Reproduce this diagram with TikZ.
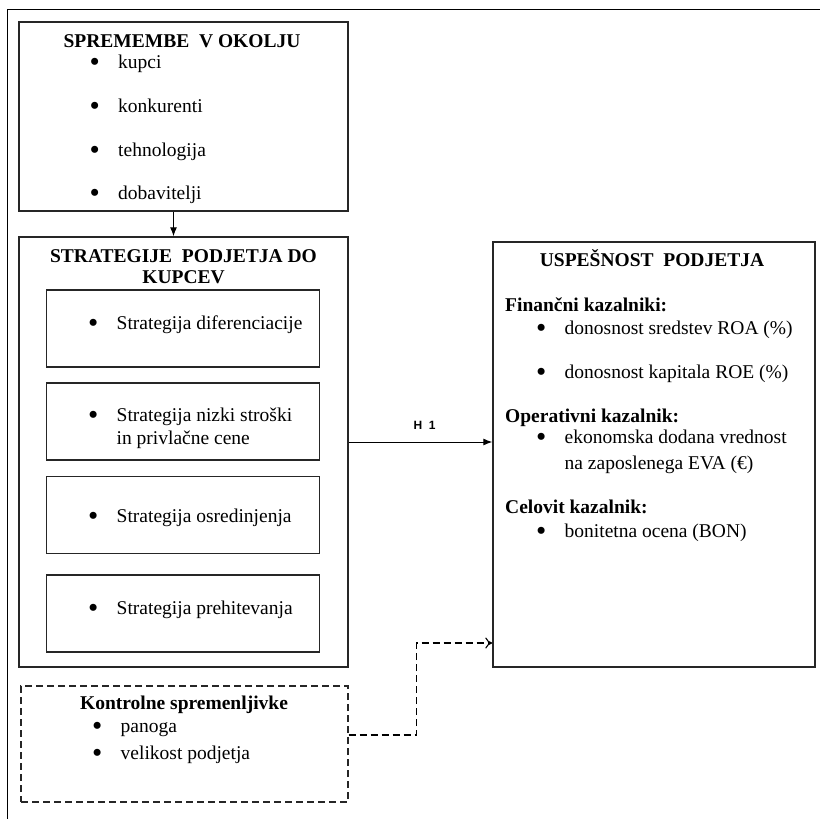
\documentclass[tikz,border=0pt]{standalone}
\usepackage{fontspec}
\setmainfont{Liberation Serif}
\setsansfont{Liberation Sans}
\usetikzlibrary{arrows.meta}
\newcommand{\alineja}{\makebox[28.5pt][l]{\raisebox{-3.2pt}{\scalebox{1.5}{\textbullet}}}}

\begin{document}
\begin{tikzpicture}[x=1pt,y=-1pt]
                        \tikzstyle{every node}=[font=\fontsize{19.5}{23}\selectfont]
                        \tikzstyle{okvir}=[draw=black!85, line width=1.4pt, inner sep=0pt]
                        \tikzstyle{crtkan}=[draw=black!85, line width=1.1pt, dash pattern=on 7pt off 4pt, inner sep=0pt]
                        \tikzstyle{naslov}=[anchor=base, inner sep=0pt, text depth=0pt, font=\fontsize{19.5}{21}\selectfont\bfseries]
                        \tikzstyle{postavka}=[anchor=base west, inner sep=0pt]
                        \useasboundingbox (0,0) rectangle (819,819);
                        % zunanji okvir
                        \draw[line width=1pt] (7.5,840) |- (840,9.5);
                        % spremembe v okolju
                        \node[okvir, minimum width=329pt, minimum height=189pt] (okolje) at (183.5,116.5) {};
                        \node[naslov] (okoljeNaslov) at (182,47.5) {SPREMEMBE\ \ V OKOLJU};
                        \node[postavka] (kupci) at (89.5,68.5) {\alineja kupci};
                        \node[postavka] (konkurenti) at (89.5,112) {\alineja konkurenti};
                        \node[postavka] (tehnologija) at (89.5,156) {\alineja tehnologija};
                        \node[postavka] (dobavitelji) at (89.5,199) {\alineja dobavitelji};
                        % strategije
                        \node[okvir, minimum width=329pt, minimum height=430pt] (strategije) at (183.5,452) {};
                        \node[naslov] (strategijeNaslov) at (183.5,262) {STRATEGIJE\ \ PODJETJA DO};
                        \node[naslov] (strategijeNaslovB) at (183.5,283) {KUPCEV};
                        \node[okvir, minimum width=273pt, minimum height=77pt] (diferenciacija) at (182.7,328.5) {};
                        \node[okvir, minimum width=273pt, minimum height=77pt] (stroski) at (182.7,421.5) {};
                        \node[okvir, minimum width=273pt, minimum height=77pt] (osredinjenje) at (182.7,515) {};
                        \node[okvir, minimum width=273pt, minimum height=77pt] (prehitevanje) at (182.7,613.5) {};
                        \node[postavka] (diferenciacijaT) at (88,329) {\alineja Strategija diferenciacije};
                        \node[postavka] (stroskiT) at (88,421) {\alineja Strategija nizki stroški};
                        \node[postavka] (stroskiTB) at (116.5,444) {in privlačne cene};
                        \node[postavka] (osredinjenjeT) at (88,522) {\alineja Strategija osredinjenja};
                        \node[postavka] (prehitevanjeT) at (88,614) {\alineja Strategija prehitevanja};
                        % uspesnost podjetja
                        \node[okvir, minimum width=322pt, minimum height=425pt] (uspesnost) at (654,454.5) {};
                        \node[naslov] (uspesnostNaslov) at (652,266) {USPEŠNOST\ \ PODJETJA};
                        \node[postavka, font=\fontsize{19.5}{23}\selectfont\bfseries] (financni) at (505,311) {Finančni kazalniki:};
                        \node[postavka] (roa) at (536,334) {\alineja donosnost sredstev ROA (\%)};
                        \node[postavka] (roe) at (536,378) {\alineja donosnost kapitala ROE (\%)};
                        \node[postavka, font=\fontsize{19.5}{23}\selectfont\bfseries] (operativni) at (505,422) {Operativni kazalnik:};
                        \node[postavka] (eva) at (536,443) {\alineja ekonomska dodana vrednost};
                        \node[postavka] (evaB) at (564.5,469) {na zaposlenega EVA (€)};
                        \node[postavka, font=\fontsize{19.5}{23}\selectfont\bfseries] (celovit) at (505,513) {Celovit kazalnik:};
                        \node[postavka] (bon) at (536,537) {\alineja bonitetna ocena (BON)};
                        % kontrolne spremenljivke
                        \node[crtkan, minimum width=327pt, minimum height=116pt] (kontrola) at (184.5,744) {};
                        \node[naslov] (kontrolaNaslov) at (184,709) {Kontrolne spremenljivke};
                        \node[postavka] (panoga) at (92,732) {\alineja panoga};
                        \node[postavka] (velikost) at (92,759) {\alineja velikost podjetja};
                        % povezave
                        \draw[line width=1pt, -{Latex[length=9pt,width=7pt]}] ([xshift=-10pt]okolje.south) -- ([xshift=-10pt]strategije.north);
                        \draw[line width=1pt, -{Latex[length=9pt,width=7pt]}] ([yshift=10pt]strategije.east) -- ([yshift=12.5pt]uspesnost.west)
                            node[midway, above=9pt, xshift=4pt, font=\fontsize{12}{14}\selectfont\sffamily\bfseries] (h1) {H\ \ 1};
                        \draw[line width=1.1pt, dash pattern=on 7pt off 4pt, -{To[length=7pt,width=11pt]}] ([yshift=9pt]kontrola.east) -- ++(68,0) |- ([yshift=-188.5pt]uspesnost.west);
\end{tikzpicture}
\end{document}
